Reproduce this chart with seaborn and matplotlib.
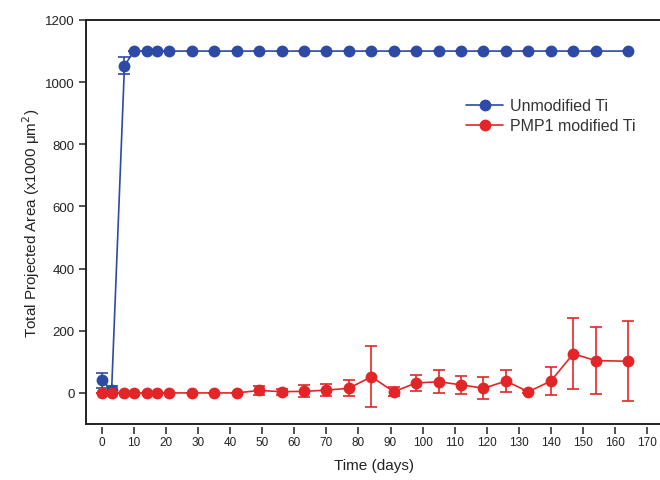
import matplotlib
matplotlib.use("Agg")
import matplotlib.pyplot as plt
import seaborn as sns
import pandas as pd
import numpy as np

days = [0, 3, 7, 10, 14, 17, 21, 28, 35, 42, 49, 56, 63, 70, 77, 84, 91, 98,
        105, 112, 119, 126, 133, 140, 147, 154, 164]
unmod = [40, 10, 1053, 1100, 1100, 1100, 1100, 1100, 1100, 1100, 1100, 1100,
         1100, 1100, 1100, 1100, 1100, 1100, 1100, 1100, 1100, 1100, 1100,
         1100, 1100, 1100, 1100]
unmod_err = [24, 12, 27, 0, 0, 0, 0, 0, 0, 0, 0, 0, 0, 0, 0, 0, 0, 0, 0, 0,
             0, 0, 0, 0, 0, 0, 0]
pmp1 = [0, 0, 0, 0, 0, 0, 0, 0, 0, 0, 8, 4, 5, 9, 15, 52, 4, 32, 36, 26, 15,
        38, 4, 38, 126, 104, 102]
pmp1_err = [0, 0, 0, 0, 0, 0, 0, 0, 0, 0, 15, 10, 19, 19, 25, 98, 14, 27, 37,
            28, 36, 35, 5, 44, 114, 108, 128]
labels = ["Unmodified Ti", "PMP1 modified Ti"]
colors = ["#2c4aa6", "#e42527"]

df = pd.DataFrame({
    "day": days * 2,
    "area": unmod + pmp1,
    "err": unmod_err + pmp1_err,
    "series": [labels[0]] * len(days) + [labels[1]] * len(days),
})

sns.set_style("white")
plt.rcParams["font.family"] = ["Liberation Sans", "DejaVu Sans"]

fig = plt.figure(figsize=(6.6, 4.81), dpi=100)
ax = fig.add_axes([86 / 660, 1 - 425 / 481, 577 / 660, (425 - 21) / 481])

for lab, col in zip(labels, colors):
    sub = df[df["series"] == lab]
    ax.errorbar(sub["day"], sub["area"], yerr=sub["err"], fmt="none",
                ecolor=col, elinewidth=1.2, capsize=4.5, capthick=1.2, zorder=2)

sns.lineplot(data=df, x="day", y="area", hue="series", hue_order=labels,
             palette=colors, marker="o", markersize=8.5, markeredgewidth=0,
             linewidth=1.2, ax=ax, zorder=3)

ax.set_xlim(-5, 175)
ax.set_ylim(-100, 1200)
ax.set_xticks(np.arange(0, 171, 10))
ax.set_yticks(np.arange(0, 1201, 200))

for s in ["left", "top"]:
    ax.spines[s].set_color("#222222")
    ax.spines[s].set_linewidth(1.4)
ax.spines["right"].set_visible(False)
ax.spines["bottom"].set_position(("outward", 2))
ax.spines["bottom"].set_visible(False)
ax.axhline(-100, color="#222222", linewidth=1.4, clip_on=False, zorder=5)

ax.tick_params(axis="both", which="major", direction="out", length=5,
               width=1.1, color="#222222", labelcolor="#222222")
ax.tick_params(axis="y", labelsize=9.5, pad=3, left=True)
ax.tick_params(axis="x", labelsize=8.5, pad=2, bottom=True)

ax.set_xlabel("Time (days)", fontsize=11, color="#222222", labelpad=7)
ax.set_ylabel("Total Projected Area (x1000 μm$^2$)", fontsize=11,
              color="#222222", labelpad=2)

leg = ax.legend(loc="upper left", bbox_to_anchor=(0.648, 0.822), frameon=False,
                fontsize=11.5, handlelength=2.3, handletextpad=0.45,
                labelspacing=0.3, borderaxespad=0)
for t in leg.get_texts():
    t.set_color("#333333")

fig.savefig("out.png", dpi=100)
